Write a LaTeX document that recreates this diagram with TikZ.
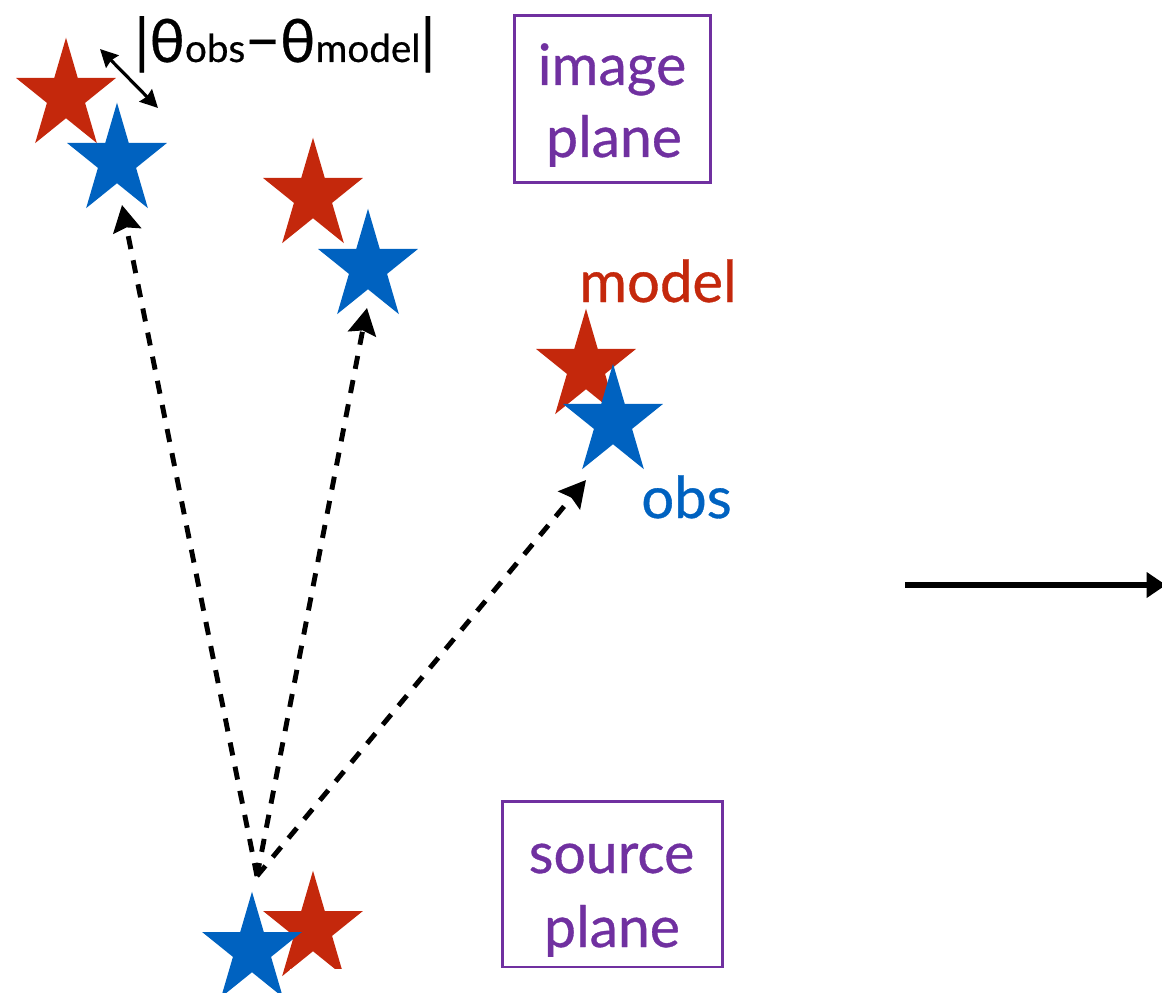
\documentclass[tikz,border=0pt]{standalone}
\usepackage{fontspec}
\setmainfont{Lato}[FakeBold=0.6]
\usetikzlibrary{shapes.geometric,arrows.meta}

\definecolor{starred}{RGB}{196,40,12}
\definecolor{starblue}{RGB}{0,98,192}
\definecolor{planepurple}{RGB}{112,48,160}

\tikzset{
  starnode/.style={star, star points=5, star point ratio=2.618,
    minimum size=2.1cm, inner sep=0pt, draw=none},
  planebox/.style={draw=planepurple, line width=1.7pt, inner sep=0pt},
  planetext/.style={text=planepurple, font=\fontsize{32.5}{32.5}\selectfont,
    anchor=base, inner sep=0pt},
  tag/.style={font=\fontsize{33}{33}\selectfont, anchor=base west, inner sep=0pt},
  ray/.style={line width=2.8pt, dash pattern=on 7.5pt off 6.5pt,
    -{Stealth[length=15pt,width=16pt,inset=2pt]}},
  gap/.style={line width=1.8pt,
    {Stealth[length=10pt,width=10pt,inset=1pt]}-{Stealth[length=10pt,width=10pt,inset=1pt]}},
  mapto/.style={line width=3.2pt, -{Triangle[length=11pt,width=14pt]}},
}

% a five-pointed star, slightly stretched vertically
\newcommand\placestar[3]{%
  \begin{scope}[shift={(#2)}, yscale=1.11]
    \node[starnode, fill=#3, transform shape] (#1) at (0,0) {};
  \end{scope}}

\begin{document}
\begin{tikzpicture}[x=0.02cm, y=-0.02cm]
  \useasboundingbox (0,0) rectangle (1162,993);
  \clip (0,0) rectangle (1162,993);

  % image-plane pairs: model (red) and observed (blue)
  \placestar{m1}{66,96}{starred}
  \placestar{o1}{117,161}{starblue}
  \placestar{m2}{313,196}{starred}
  \placestar{o2}{368,267}{starblue}
  \placestar{m3}{586,367}{starred}
  \placestar{o3}{613,422}{starblue}

  % source-plane pair
  \placestar{ms}{313,929}{starred}
  \placestar{os}{252,950}{starblue}
  \fill[white] (290,969) rectangle (617,993);

  % ray paths from the source to the images
  \coordinate (src) at (257,876);
  \coordinate (t1) at (122,205);
  \coordinate (t2) at (367,308);
  \coordinate (t3) at (586,480);
  \draw[ray] (src) -- (t1);
  \draw[ray] (src) -- (t2);
  \draw[ray] (src) -- (t3);

  % offset between observed and model positions
  \coordinate (ga) at (100,49);
  \coordinate (gb) at (158,108);
  \draw[gap] (ga) -- (gb);
  \node[font=\fontsize{34}{34}\selectfont, anchor=base west, inner sep=0pt] (delta) at (134,62)
    {|θ{\fontsize{22}{22}\selectfont obs}−θ{\fontsize{22}{22}\selectfont model}|};

  % labels
  \node[tag, text=starred] (lmodel) at (579,302) {model};
  \node[tag, text=starblue] (lobs) at (641,518) {obs};

  % plane boxes
  \node[planebox, minimum width=3.94cm, minimum height=3.36cm] (imgbox) at (612.5,99) {};
  \node[planetext] (img1) at (612,85) {image};
  \node[planetext] (img2) at (614,157) {plane};
  \node[planebox, minimum width=4.42cm, minimum height=3.32cm] (srcbox) at (612.5,884) {};
  \node[planetext] (src1) at (611.5,873) {source};
  \node[planetext] (src2) at (612,947) {plane};

  % outgoing arrow
  \coordinate (ra) at (905,585);
  \coordinate (rb) at (1166,585);
  \draw[mapto] (ra) -- (rb);
\end{tikzpicture}
\end{document}
